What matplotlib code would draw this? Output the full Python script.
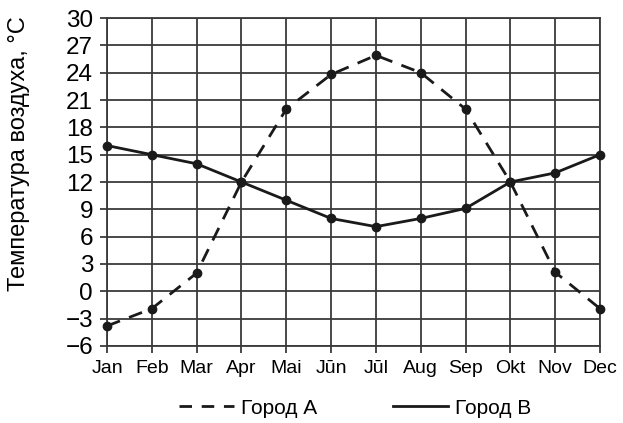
import matplotlib
matplotlib.use("Agg")
import matplotlib.pyplot as plt
from matplotlib.lines import Line2D

months = ["Jan", "Feb", "Mar", "Apr", "Mai", "Jūn", "Jūl", "Aug", "Sep", "Okt", "Nov", "Dec"]
city_a = [-3.8, -1.9, 2.0, 12.0, 20.0, 23.8, 25.9, 24.0, 20.0, 12.0, 2.1, -1.9]
city_b = [16.0, 15.0, 14.0, 12.0, 10.0, 8.0, 7.1, 8.0, 9.1, 12.0, 13.0, 15.0]
yticks = list(range(-6, 31, 3))
ytick_labels = ["−6", "−3", "0", "3", "6", "9", "12", "15", "18", "21", "24", "27", "30"]
label_a = "Город А"
label_b = "Город В"
ylabel = "Температура воздуха, °С"

plt.rcParams['font.family'] = ['Liberation Sans', 'DejaVu Sans']

W, H = 623, 423
fig = plt.figure(figsize=(W / 100, H / 100), dpi=100)
ax = fig.add_axes([107 / W, 1 - 346 / H, (600 - 107) / W, (346 - 18) / H])

x = list(range(len(months)))
grid_c = "#3a3a3a"
ax.set_xlim(0, len(months) - 1)
ax.set_ylim(-6, 30)
ax.set_xticks(x)
ax.set_xticklabels(months, fontsize=14)
ax.set_yticks(yticks)
ax.set_yticklabels(ytick_labels, fontsize=17.5)
ax.grid(True, color=grid_c, linewidth=1.3)
for s in ax.spines.values():
    s.set_color(grid_c)
    s.set_linewidth(1.3)
ax.tick_params(axis='both', length=5, width=1.3, color=grid_c)
ax.tick_params(axis='x', pad=5)
ax.tick_params(axis='y', pad=5)

dash = (0, (5, 3.5))
ax.plot(x, city_a, color="#1a1a1a", lw=2, ls=dash, marker='o', ms=6, zorder=3, clip_on=False)
ax.plot(x, city_b, color="#1a1a1a", lw=2, ls='-', marker='o', ms=6, zorder=3, clip_on=False)

fig.text(19 / W, 1 - 154 / H, ylabel, rotation=90, ha='center', va='center', fontsize=17)

h1 = Line2D([], [], color="#1a1a1a", lw=2, ls=(0, (4.5, 3.5)))
h2 = Line2D([], [], color="#1a1a1a", lw=2, ls='-')
fig.legend([h1, h2], [label_a, label_b], loc='center', bbox_to_anchor=(0.57, 1 - 408 / H),
           ncol=2, frameon=False, fontsize=15, handlelength=2.65, handletextpad=0.35,
           columnspacing=3.6)

fig.savefig("out.png", dpi=100)
